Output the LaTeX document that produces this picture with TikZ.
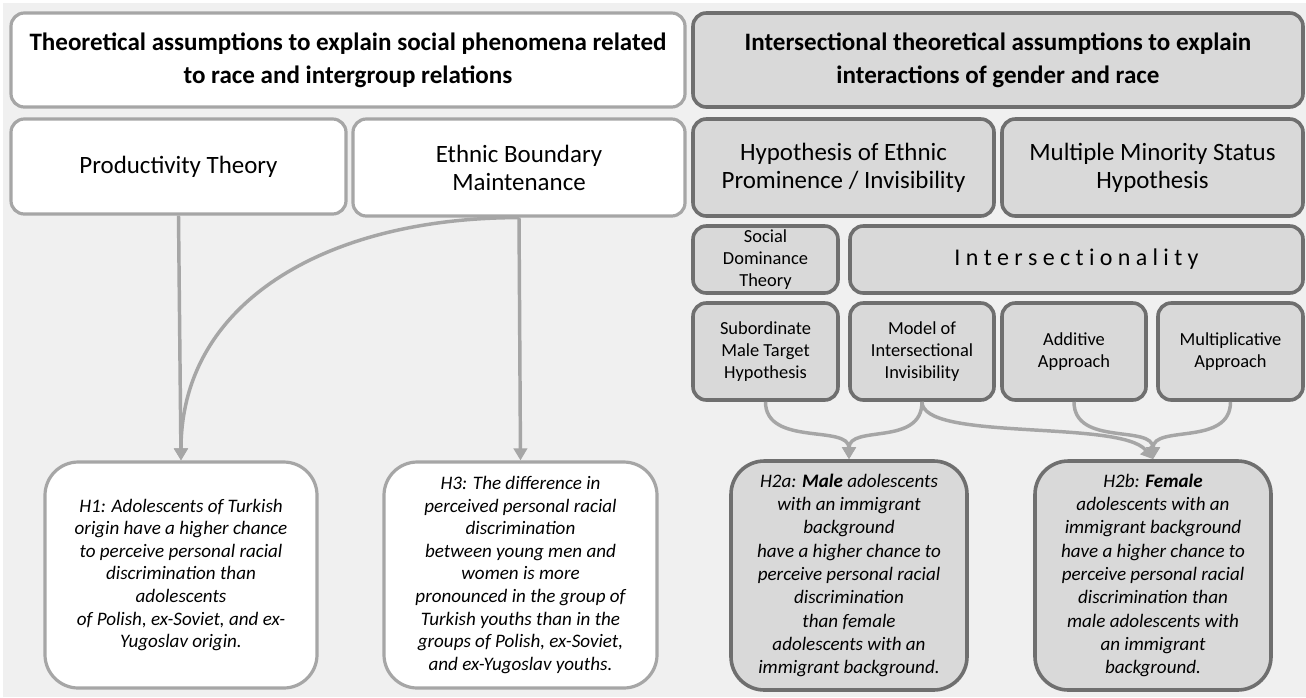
\documentclass[tikz,border=0pt]{standalone}
\usepackage{fontspec}
\setmainfont{Carlito}
\usetikzlibrary{arrows.meta}
\definecolor{bggray}{HTML}{F0F0F0}
\definecolor{lborder}{HTML}{A6A6A6}
\definecolor{dborder}{HTML}{6F6F6F}
\definecolor{dfill}{HTML}{D9D9D9}
\definecolor{arrgray}{HTML}{A6A6A6}
\newcommand\ls{\hspace{4pt}}
\newcommand\bx[7]{\node[#6, minimum width={(#4-#2)*0.75pt}, minimum height={(#5-#3)*0.75pt}] (#1) at ({(#2+#4)/2},{(#3+#5)/2}) {#7};}
\begin{document}
\begin{tikzpicture}[x=0.75pt,y=-0.75pt,
  lbox/.style={draw=lborder, fill=white, line width=2.4pt, rounded corners=10pt, align=center, inner sep=0pt},
  dbox/.style={draw=dborder, fill=dfill, line width=2.7pt, rounded corners=10pt, align=center, inner sep=0pt},
  hyp/.style={rounded corners=25pt},
  hfont/.style={font=\fontsize{18.8}{24.75}\selectfont\bfseries},
  mfont/.style={font=\fontsize{18.7}{21}\selectfont},
  sfont/.style={font=\fontsize{13.8}{16.5}\selectfont},
  ifont/.style={font=\fontsize{14.3}{16.9}\selectfont\itshape},
  ifontb/.style={font=\fontsize{14.3}{17.5}\selectfont\itshape},
  conn/.style={draw=arrgray, line width=2.6pt, -{Triangle[width=10pt,length=9pt]}}]
\fill[white] (0,0) rectangle (1306,697);
\fill[bggray] (3,3) rectangle (1306,697);
\useasboundingbox (0,0) rectangle (1306,697);

\bx{hl}{11}{13}{685}{107}{lbox,hfont}{Theoretical assumptions to explain social phenomena related\\to race and intergroup relations}
\bx{hr}{693}{13}{1303}{107}{dbox,hfont}{Intersectional theoretical assumptions to explain\\interactions of gender and race}
\bx{pt}{11}{119}{346}{214}{lbox,mfont}{Productivity Theory}
\bx{eb}{353}{119}{685}{216}{lbox,mfont}{Ethnic Boundary\\Maintenance}
\bx{hep}{693}{119}{994}{216}{dbox,mfont}{Hypothesis of Ethnic\\Prominence / Invisibility}
\bx{mms}{1002}{119}{1303}{216}{dbox,mfont}{Multiple Minority Status\\Hypothesis}
\bx{sdt}{693}{226}{838}{293}{dbox,sfont}{Social\\Dominance\\Theory}
\bx{int}{850}{226}{1303}{293}{dbox,font=\fontsize{18}{20}\selectfont}{I\ls n\ls t\ls e\ls r\ls s\ls e\ls c\ls t\ls i\ls o\ls n\ls a\ls l\ls i\ls t\ls y}
\bx{smt}{693}{303}{838}{400}{dbox,sfont}{Subordinate\\Male Target\\Hypothesis}
\bx{mii}{850}{303}{994}{400}{dbox,sfont}{Model of\\Intersectional\\Invisibility}
\bx{add}{1002}{303}{1146}{400}{dbox,sfont}{Additive\\Approach}
\bx{mul}{1158}{303}{1303}{400}{dbox,sfont}{Multiplicative\\Approach}
\bx{h1}{45}{462}{317}{688}{lbox,hyp,ifont}{H1: Adolescents of Turkish\\origin have a higher chance\\to perceive personal racial\\discrimination than\\adolescents\\of Polish, ex-Soviet, and ex-\\Yugoslav origin.}
\bx{h3}{384}{462}{657}{688}{lbox,hyp,ifont}{H3: The difference in\\perceived personal racial\\discrimination\\between young men and\\women is more\\pronounced in the group of\\Turkish youths than in the\\groups of Polish, ex-Soviet,\\and ex-Yugoslav youths.}
\bx{h2a}{731}{461}{967}{690}{dbox,hyp,ifontb}{H2a: \textbf{Male} adolescents\\with an immigrant\\background\\have a higher chance to\\perceive personal racial\\discrimination\\than female\\adolescents with an\\immigrant background.}
\bx{h2b}{1035}{461}{1271}{690}{dbox,hyp,ifontb}{H2b: \textbf{Female}\\adolescents with an\\immigrant background\\have a higher chance to\\perceive personal racial\\discrimination than\\male adolescents with\\an immigrant\\background.}

\draw[conn] (pt.south) -- (h1.north);
\draw[conn] (eb.south) -- (h3.north);
\draw[conn] (eb.south) .. controls +(-190,0) and +(0,-160) .. (h1.north);
\draw[conn] (smt.south) .. controls +(0,45) and +(0,-35) .. (h2a.north);
\draw[conn] (mii.south) .. controls +(0,45) and +(0,-35) .. (h2a.north);
\draw[conn] (mii.south) .. controls +(0,40) and +(-32,-40) .. (h2b.north);
\draw[conn] (add.south) .. controls +(0,45) and +(0,-35) .. (h2b.north);
\draw[conn] (mul.south) .. controls +(0,45) and +(0,-35) .. (h2b.north);
\end{tikzpicture}
\end{document}
